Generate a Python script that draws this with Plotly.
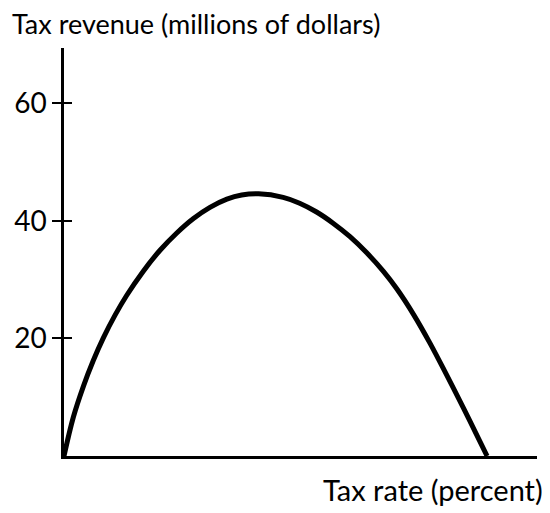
import plotly.graph_objects as go

# Tax rate (percent) and tax revenue (millions of dollars)
tax_rate = [0, 2.2, 4.6, 6.9, 9.3, 12.1, 14.8, 18.7, 22.7, 26.6, 30.6, 34.5, 38.5,
            42.0, 46.0, 51.8, 55.7, 59.7, 63.6, 67.6, 71.5, 75.5, 78.7, 82.6, 86.5,
            90.5, 94.4, 98.3, 100]
tax_revenue = [0, 6.6, 11.9, 16.2, 20.1, 24.0, 27.3, 31.4, 35.0, 37.9, 40.4, 42.3, 43.7,
               44.4, 44.6, 44.0, 43.0, 41.5, 39.6, 37.3, 34.6, 31.4, 28.4, 24.1, 19.2,
               13.7, 8.2, 2.5, 0]
y_ticks = [20, 40, 60]
y_tick_labels = ["20", "40", "60"]

FONT = "Lato"
W, H = 542, 505
L, R, T, B = 56, 13, 40, 57
PW, PH = W - L - R, H - T - B

fig = go.Figure()
fig.add_trace(go.Scatter(x=tax_rate, y=tax_revenue, mode="lines",
                         line=dict(color="black", width=5, shape="spline", smoothing=1),
                         hoverinfo="skip", showlegend=False))
# invisible trace to keep the inside-tick axis drawn
fig.add_trace(go.Scatter(x=[0], y=[0], yaxis="y2", mode="markers",
                         marker=dict(opacity=0), showlegend=False, hoverinfo="skip"))

yr = [0, 69.4]
fig.update_layout(
    width=W, height=H,
    margin=dict(l=L, r=R, t=T, b=B, autoexpand=False),
    paper_bgcolor="white", plot_bgcolor="white",
    font=dict(family=FONT, color="black", size=26),
    xaxis=dict(range=[0, 111.8], showline=True, linecolor="black", linewidth=2.5,
               showgrid=False, zeroline=False, showticklabels=False, ticks="",
               automargin=False),
    yaxis=dict(range=yr, showline=True, linecolor="black", linewidth=2.5,
               showgrid=False, zeroline=False, tickvals=y_ticks, ticktext=y_tick_labels,
               ticks="outside", ticklen=9, tickwidth=1.5, tickcolor="black",
               ticklabelstandoff=0, tickfont=dict(size=28, family=FONT),
               automargin=False),
    yaxis2=dict(range=yr, overlaying="y", side="left", anchor="x", showline=False,
                showgrid=False, zeroline=False, tickvals=y_ticks, showticklabels=False,
                ticks="inside", ticklen=8, tickwidth=1.5, tickcolor="black",
                automargin=False),
    annotations=[
        dict(text="Tax revenue (millions of dollars)", xref="paper", yref="paper",
             x=(2 - L) / PW, y=1 + (T - 15) / PH, xanchor="left", yanchor="middle",
             showarrow=False, font=dict(size=27, family=FONT)),
        dict(text="Tax rate (percent)", xref="paper", yref="paper",
             x=(537 - L) / PW, y=-(482 - (H - B)) / PH, xanchor="right", yanchor="middle",
             showarrow=False, font=dict(size=29, family=FONT)),
    ],
)
fig.write_html("out.html")
